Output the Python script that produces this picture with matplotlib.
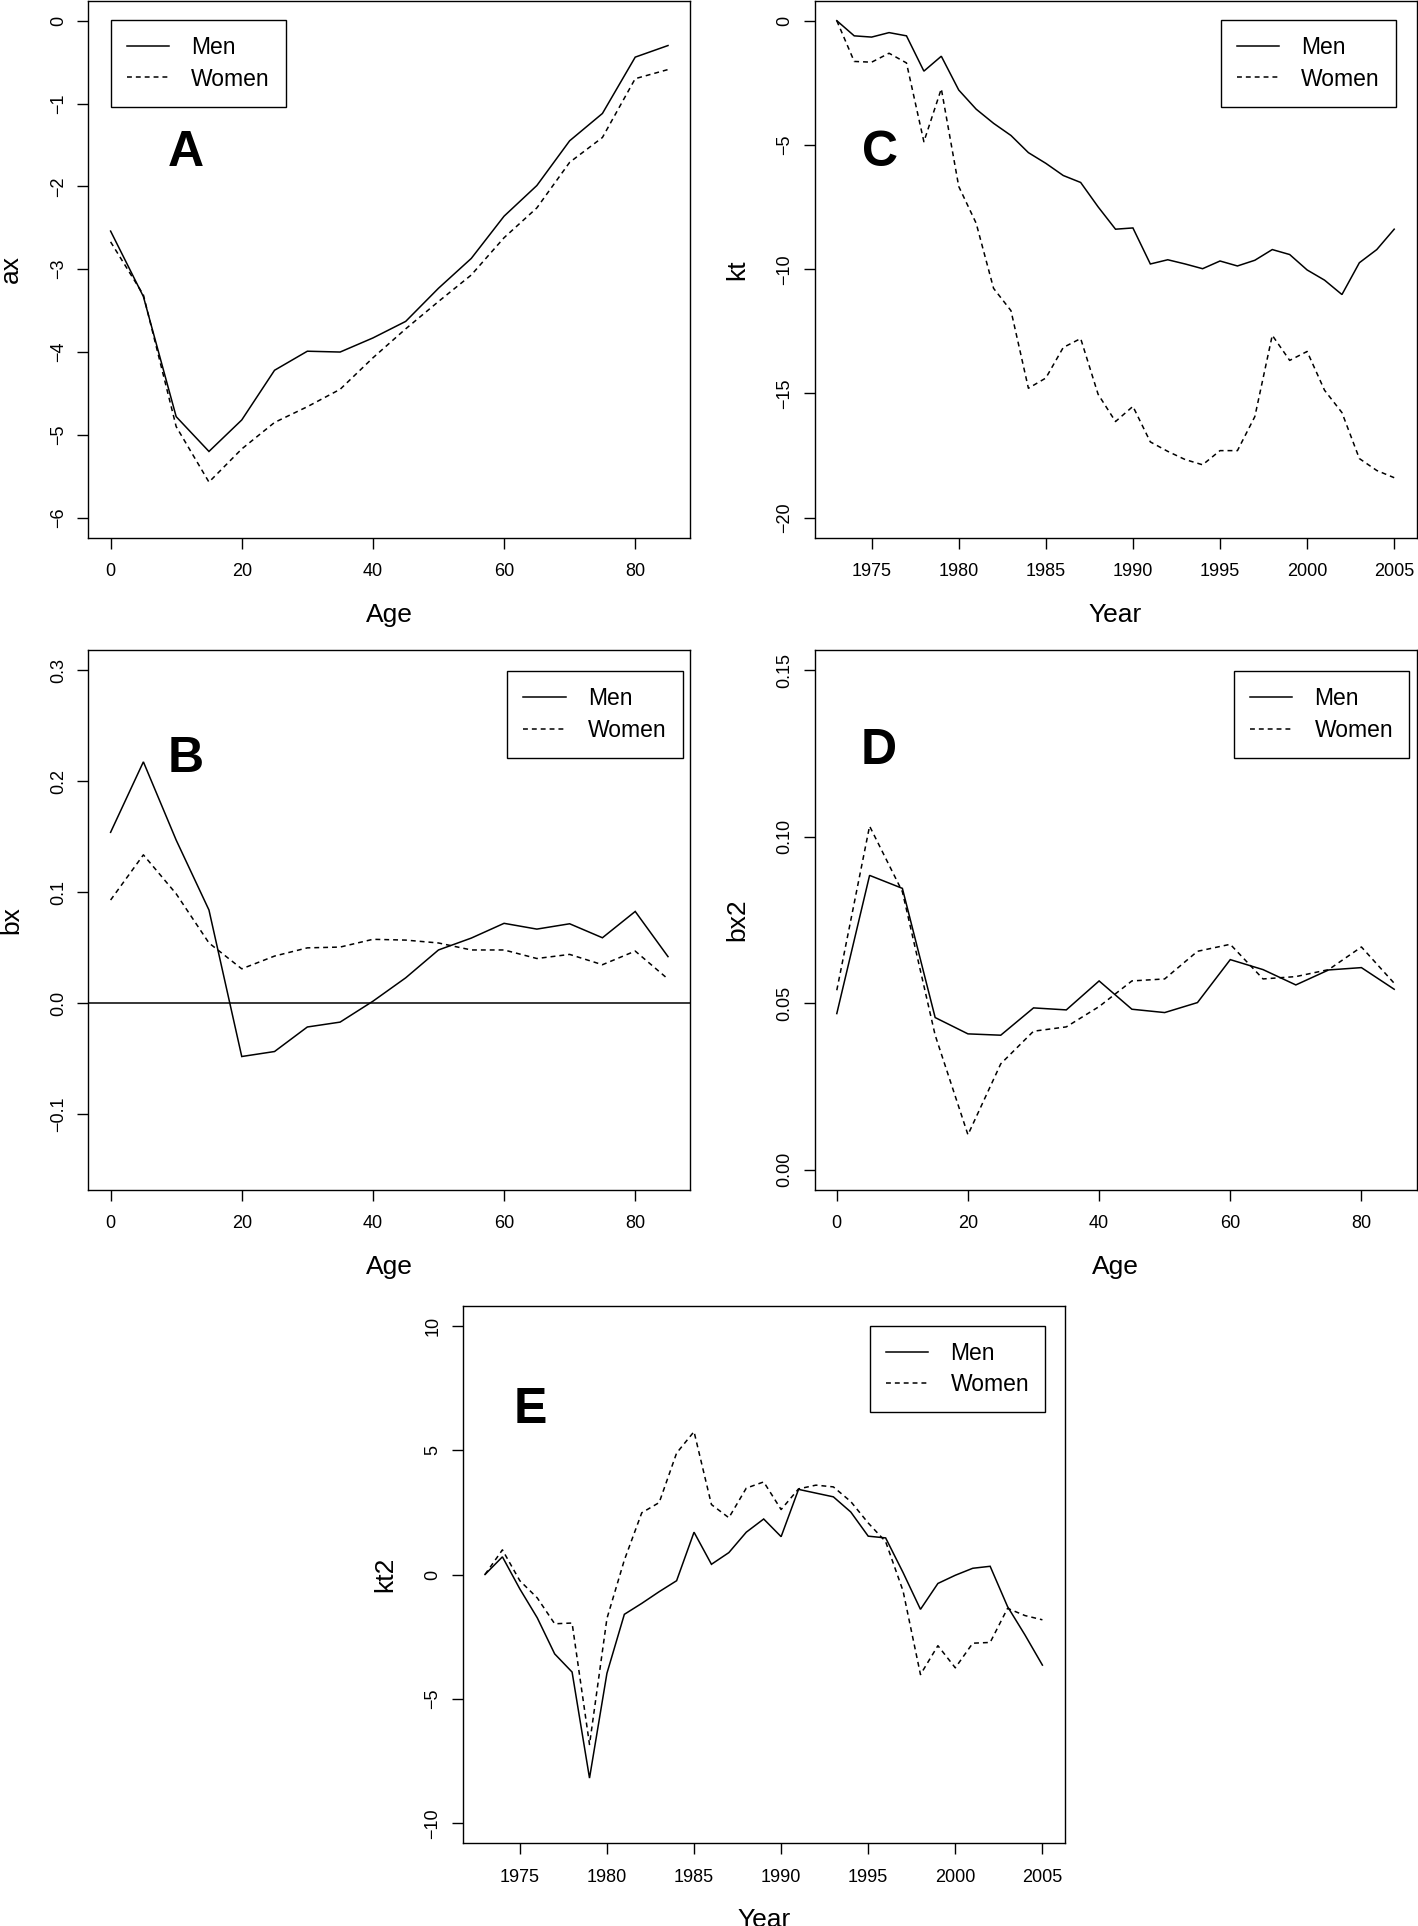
import matplotlib
matplotlib.use("Agg")
import matplotlib.pyplot as plt
from matplotlib.lines import Line2D
from matplotlib.ticker import FuncFormatter

plt.rcParams['font.family'] = ['Liberation Sans', 'DejaVu Sans']

# ---- data ----
ages = [0, 5, 10, 15, 20, 25, 30, 35, 40, 45, 50, 55, 60, 65, 70, 75, 80, 85]
years = list(range(1973, 2006))

ax_men = [-2.54, -3.33, -4.78, -5.20, -4.82, -4.22, -3.99, -4.00, -3.83, -3.63,
          -3.23, -2.87, -2.36, -1.99, -1.45, -1.12, -0.44, -0.30]
ax_women = [-2.67, -3.31, -4.90, -5.57, -5.17, -4.85, -4.66, -4.45, -4.07, -3.72,
            -3.39, -3.07, -2.62, -2.26, -1.71, -1.41, -0.70, -0.59]

bx_men = [0.154, 0.2175, 0.147, 0.084, -0.048, -0.0435, -0.0214, -0.017, 0.0018,
          0.0229, 0.048, 0.0587, 0.072, 0.0668, 0.0716, 0.059, 0.0827, 0.042]
bx_women = [0.093, 0.1337, 0.0986, 0.0543, 0.031, 0.0425, 0.0499, 0.0506, 0.0576,
            0.0569, 0.0543, 0.048, 0.048, 0.0403, 0.044, 0.0347, 0.047, 0.0218]

kt_men = [0.0, -0.61, -0.66, -0.48, -0.61, -2.03, -1.43, -2.79, -3.56, -4.13,
          -4.62, -5.31, -5.74, -6.23, -6.51, -7.49, -8.39, -8.34, -9.79, -9.62,
          -9.79, -9.98, -9.67, -9.87, -9.64, -9.21, -9.41, -10.03, -10.44, -11.02,
          -9.74, -9.21, -8.39]
kt_women = [0.0, -1.64, -1.67, -1.31, -1.70, -4.87, -2.74, -6.67, -8.15, -10.77,
            -11.67, -14.79, -14.38, -13.15, -12.79, -15.03, -16.13, -15.52, -16.95,
            -17.33, -17.66, -17.87, -17.30, -17.30, -15.93, -12.66, -13.67, -13.31,
            -14.87, -15.77, -17.62, -18.10, -18.39]

bx2_men = [0.0469, 0.0884, 0.0845, 0.0457, 0.0408, 0.0404, 0.0486, 0.0480, 0.0567,
           0.0482, 0.0472, 0.0502, 0.0631, 0.0601, 0.0555, 0.0600, 0.0607, 0.0542]
bx2_women = [0.0539, 0.1032, 0.0835, 0.0404, 0.0105, 0.0318, 0.0416, 0.0429, 0.0490,
             0.0567, 0.0573, 0.0656, 0.0677, 0.0573, 0.0580, 0.0601, 0.0669, 0.0560]

kt2_men = [0.0, 0.71, -0.58, -1.74, -3.19, -3.92, -8.18, -3.97, -1.60, -1.16,
           -0.69, -0.25, 1.70, 0.41, 0.88, 1.70, 2.23, 1.52, 3.42, 3.27,
           3.12, 2.51, 1.54, 1.47, 0.08, -1.40, -0.36, -0.03, 0.25, 0.33,
           -1.29, -2.43, -3.64]
kt2_women = [0.0, 0.99, -0.25, -0.94, -1.98, -1.95, -6.83, -1.77, 0.58, 2.48,
             2.89, 4.88, 5.74, 2.81, 2.28, 3.47, 3.72, 2.61, 3.44, 3.59,
             3.52, 2.93, 2.07, 1.32, -0.66, -4.02, -2.86, -3.75, -2.76, -2.73,
             -1.36, -1.65, -1.82]

age_ticks = [0, 20, 40, 60, 80]
year_ticks = [1975, 1980, 1985, 1990, 1995, 2000, 2005]

W, H = 1418, 1926
fig = plt.figure(figsize=(W / 100, H / 100), dpi=100)


def px_axes(l, t, r, b):
    return fig.add_axes([l / W, 1 - b / H, (r - l) / W, (b - t) / H])


def r_range(lo, hi):
    # R style 4% extension of the axis range
    d = (hi - lo) * 0.04
    return lo - d, hi + d


def minus_fmt(fmt):
    return FuncFormatter(lambda v, p: fmt.format(v).replace('-', '\u2212'))


LW = 1.1
DASH = (3.2, 2.6)


def panel(box, x, men, women, xlim, ylim, xticks, yticks, yfmt, xlabel, ylabel,
          letter, letter_xy, legend_xy):
    ax = px_axes(*box)
    ax.plot(x, men, color='black', lw=LW, solid_joinstyle='miter')
    ax.plot(x, women, color='black', lw=LW, dashes=DASH)
    ax.set_xlim(*r_range(*xlim))
    ax.set_ylim(*r_range(*ylim))
    ax.set_xticks(xticks)
    ax.set_yticks(yticks)
    ax.yaxis.set_major_formatter(minus_fmt(yfmt))
    for s in ax.spines.values():
        s.set_linewidth(1.0)
    ax.tick_params(direction='out', length=7.9, width=1.0, labelsize=13)
    ax.tick_params(axis='x', pad=10.5)
    ax.tick_params(axis='y', pad=7.5, labelrotation=90)
    for lab in ax.get_yticklabels():
        lab.set_va('center')
    bw = box[2] - box[0]
    bh = box[3] - box[1]
    ax.set_xlabel(xlabel, fontsize=19)
    ax.set_ylabel(ylabel, fontsize=19)
    ax.xaxis.set_label_coords(0.5, -77 / bh)
    ax.xaxis.label.set_va('center')
    ax.yaxis.set_label_coords(-77 / bw, 0.5)
    ax.yaxis.label.set_va('center')
    fig.text(letter_xy[0] / W, 1 - letter_xy[1] / H, letter, fontsize=36,
             fontweight='bold', ha='center', va='baseline')
    handles = [Line2D([], [], color='black', lw=LW),
               Line2D([], [], color='black', lw=LW, dashes=DASH)]
    leg = ax.legend(handles, ['Men', 'Women'], loc='upper left',
                    bbox_to_anchor=(legend_xy[0] / W, 1 - legend_xy[1] / H),
                    bbox_transform=fig.transFigure, borderaxespad=0,
                    fontsize=16.5, handlelength=1.85, handletextpad=0.96,
                    borderpad=0.7, labelspacing=0.37, fancybox=False,
                    framealpha=1, edgecolor='black')
    leg.get_frame().set_linewidth(1.0)
    return ax


panel((88.3, 0.8, 690.3, 537.6), ages, ax_men, ax_women, (0, 85), (-6, 0),
      age_ticks, [-6, -5, -4, -3, -2, -1, 0], '{:.0f}', 'Age', 'ax',
      'A', (186, 166), (110.7, 20))

panel((814.5, 0.8, 1416.5, 537.6), years, kt_men, kt_women, (1973, 2005), (-20, 0),
      year_ticks, [-20, -15, -10, -5, 0], '{:.0f}', 'Year', 'kt',
      'C', (880, 166), (1220.7, 20))

axb = panel((88.3, 650.3, 690.3, 1189.7), ages, bx_men, bx_women, (0, 85), (-0.15, 0.3),
            age_ticks, [-0.1, 0.0, 0.1, 0.2, 0.3], '{:.1f}', 'Age', 'bx',
            'B', (186, 772), (507.4, 671))
axb.axhline(0, color='black', lw=LW)

panel((814.5, 650.3, 1416.5, 1189.7), ages, bx2_men, bx2_women, (0, 85), (0, 0.15),
      age_ticks, [0.0, 0.05, 0.10, 0.15], '{:.2f}', 'Age', 'bx2',
      'D', (879, 764), (1234, 671))

panel((462.7, 1305.7, 1064.7, 1843.3), years, kt2_men, kt2_women, (1973, 2005), (-10, 10),
      year_ticks, [-10, -5, 0, 5, 10], '{:.0f}', 'Year', 'kt2',
      'E', (530, 1423), (870, 1325.5))

fig.savefig('out.png', dpi=100)
